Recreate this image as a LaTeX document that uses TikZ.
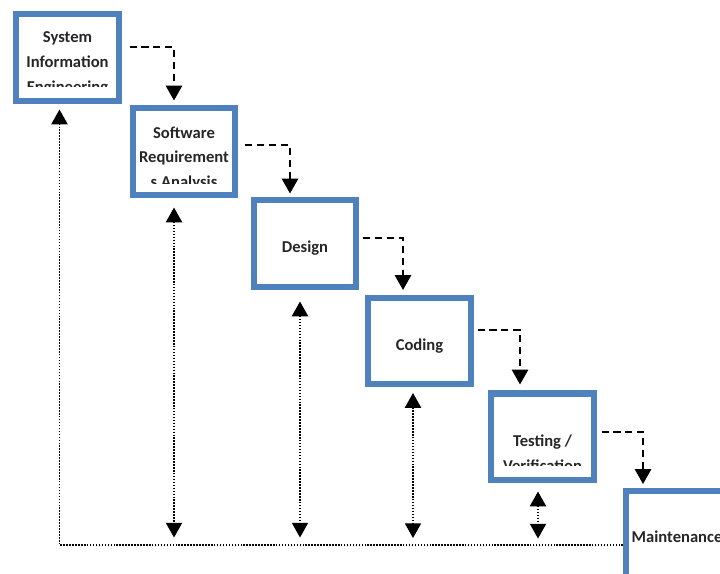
\documentclass[tikz,border=0pt]{standalone}
\usepackage{fontspec}
\setsansfont{Carlito}
\usetikzlibrary{arrows.meta,calc}
\definecolor{boxblue}{RGB}{79,129,189}

\begin{document}
\begin{tikzpicture}[x=0.025cm,y=-0.025cm, % pixel grid, y down
    phase/.style={draw=boxblue, line width=0.15cm, minimum width=2.55cm, minimum height=2.15cm, inner sep=0pt},
    phasetext/.style={font=\sffamily\bfseries\fontsize{11.8}{17.5}\selectfont, align=center, text=black!85, inner sep=0pt},
    bigtip/.tip={Triangle[width=11.5pt,length=10.5pt]},
    flow/.style={black, line width=1.3pt, dash pattern=on 5pt off 3.5pt, -bigtip},
    feedback/.style={black, line width=1.1pt, densely dotted}]

    % --- Page frame ---
    \clip (0,0) rectangle (720,573);

    % --- Phase boxes (one step down and right each) ---
    \node[phase] (sie) at (67.5,57.5) {};
    \node[phase] (sra) at (184,151.5) {};
    \node[phase] (des) at (305,243.5) {};
    \node[phase] (cod) at (419.5,341) {};
    \node[phase] (tst) at (542.5,436.5) {};
    \node[phase] (mnt) at (677,534) {};

    % --- Box texts (last lines cut off as in the box) ---
    \begin{scope}
        \clip (sie.north west) rectangle ($(sie.south east)+(0,-17)$);
        \node[phasetext] at ($(sie)+(0,6)$) {System\\Information\\Engineering};
    \end{scope}
    \begin{scope}
        \clip (sra.north west) rectangle ($(sra.south east)+(0,-14)$);
        \node[phasetext] at ($(sra)+(0,7)$) {Software\\Requirement\\s Analysis};
    \end{scope}
    \node[phasetext] at ($(des)+(0,5)$) {Design};
    \node[phasetext] at ($(cod)+(0,5.5)$) {Coding};
    \begin{scope}
        \clip (tst.north west) rectangle ($(tst.south east)+(0,-17)$);
        \node[phasetext] at ($(tst)+(0,16.5)$) {Testing /\\Verification};
    \end{scope}
    \node[phasetext] at ($(mnt)+(0,2.5)$) {Maintenance};

    % --- Dashed steps to the next phase ---
    \draw[flow] ($(sie.east)+(8,-10.5)$) -| ($(sra.north)+(-10,-5)$);
    \draw[flow] ($(sra.east)+(7,-6.5)$) -| ($(des.north)+(-15,-4)$);
    \draw[flow] ($(des.east)+(4,-5.5)$) -| ($(cod.north)+(-16.5,-5)$);
    \draw[flow] ($(cod.east)+(4,-11)$) -| ($(tst.north)+(-22.5,-6)$);
    \draw[flow] ($(tst.east)+(5,-4.5)$) -| ($(mnt.north)+(-34,-4)$);

    % --- Dotted feedback arrows ---
    \draw[feedback, bigtip-bigtip] ($(sra.south)+(-10,10)$) -- ($(sra.south)+(-10,340)$);
    \draw[feedback, bigtip-bigtip] ($(des.south)+(-5,12)$) -- ($(des.south)+(-5,248)$);
    \draw[feedback, bigtip-bigtip] ($(cod.south)+(-6.5,6)$) -- ($(cod.south)+(-6.5,151)$);
    \draw[feedback, bigtip-bigtip] ($(tst.south)+(-4.5,9)$) -- ($(tst.south)+(-4.5,56)$);
    \draw[feedback, -bigtip] ($(mnt.west)+(0,11)$) -| ($(sie.south)+(-8,6)$);

\end{tikzpicture}
\end{document}
